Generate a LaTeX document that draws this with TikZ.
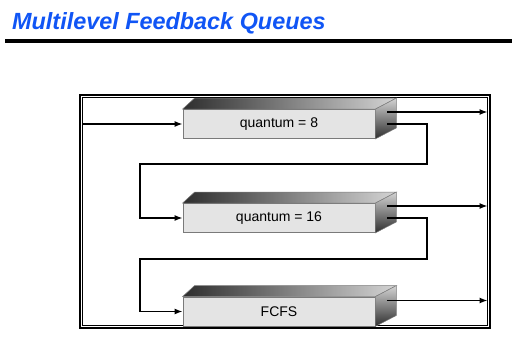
\documentclass[tikz,border=0pt]{standalone}
\usepackage{fontspec}
\setmainfont{Liberation Sans}
\usepackage{tikz}
\usetikzlibrary{arrows.meta,positioning,calc}
\definecolor{titleblue}{HTML}{1055F5}
\definecolor{frontgray}{HTML}{E4E4E4}
\definecolor{edgegray}{HTML}{7A7A7A}
\definecolor{darkface}{HTML}{2E2E2E}
\definecolor{lightface}{HTML}{D4D4D4}
\tikzset{
  >={Latex[length=8pt,width=6pt]},
  front/.style={draw=edgegray,fill=frontgray,line width=0.8pt,minimum width=192,minimum height=29,inner sep=0pt,font=\fontsize{14}{15}\selectfont},
  topface/.style={left color=darkface,right color=lightface,draw=edgegray,line width=0.5pt},
  sideface/.style={top color=lightface,bottom color=darkface,draw=edgegray,line width=0.5pt},
  flow/.style={->,line width=1.3pt,draw=black},
}
% draws the top and right faces behind a queue box
\newcommand{\qdepth}[1]{%
  \draw[topface] (#1.north west) -- ++(12,-11) -- ($(#1.north east)+(21,-11)$) -- (#1.north east) -- cycle;
  \draw[sideface] (#1.north east) -- ++(21,-11) -- ($(#1.south east)+(21,-11)$) -- (#1.south east) -- cycle;
}
\begin{document}
\begin{tikzpicture}[x=1pt,y=-1pt]
  \useasboundingbox (0,0) rectangle (512,339);
  % heading
  \node[anchor=base west,inner sep=0pt,text=titleblue,font=\fontsize{23.4}{24}\selectfont\bfseries\itshape] (title) at (12,30) {Multilevel Feedback Queues};
  \draw[line width=4pt] (5,41.3) -- (512,41.3);
  % frame
  \draw[line width=1.4pt] (80,95) rectangle (490,328);
  \draw[line width=0.9pt] (82.5,97.5) rectangle (487.5,325.5);
  \coordinate (fr-nw) at (82.5,97.5);
  \coordinate (fr-se) at (487.5,325.5);
  % queues
  \node[front] (q8) at (279,124) {quantum = 8};
  \node[front] (q16) at (279,218) {quantum = 16};
  \node[front] (fcfs) at (279,311.5) {FCFS};
  \qdepth{q8}
  \qdepth{q16}
  \qdepth{fcfs}
  \coordinate (q8-out) at ($(q8.east)+(12,-12)$);
  \coordinate (q8-back) at ($(q8.east)+(12,0)$);
  \coordinate (q16-out) at ($(q16.east)+(12,-12)$);
  \coordinate (q16-back) at ($(q16.east)+(12,0)$);
  \coordinate (fcfs-out) at ($(fcfs.east)+(12,-11)$);
  % arrows
  \draw[flow] (fr-nw |- q8.west) -- (q8.west);
  \draw[flow] (q8-out) -- (fr-se |- q8-out);
  \draw[flow] (q16-out) -- (fr-se |- q16-out);
  \draw[flow] (fcfs-out) -- (fr-se |- fcfs-out);
  \draw[flow] (q8-back) -- (427,124) -- (427,164) -- (140,164) -- (140,218) -- (q16.west);
  \draw[flow] (q16-back) -- (427,218) -- (427,259) -- (140,259) -- (140,311.5) -- (fcfs.west);
\end{tikzpicture}
\end{document}
